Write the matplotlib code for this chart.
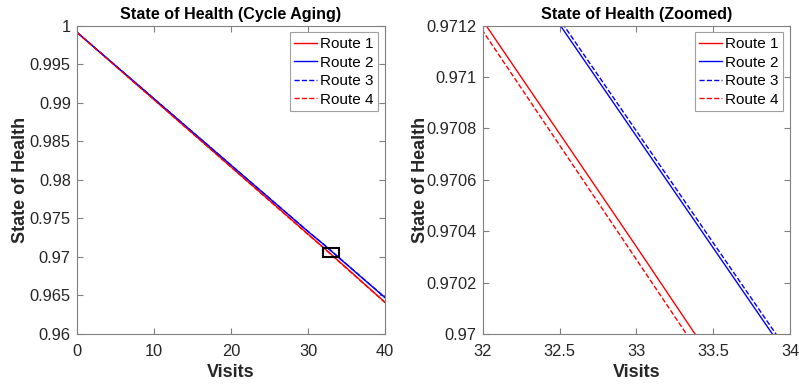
import matplotlib.pyplot as plt
from matplotlib.patches import Rectangle
from matplotlib.ticker import FixedLocator, FixedFormatter

plt.rcParams['font.family'] = ['Liberation Sans', 'DejaVu Sans']

# SOH per route at selected visit counts
visits = [0, 10, 20, 30, 32, 33, 34, 40]
route1 = [0.99912, 0.99040, 0.98168, 0.97296, 0.97122, 0.97034, 0.96945, 0.96411]
route2 = [0.99912, 0.99051, 0.98190, 0.97329, 0.97164, 0.97077, 0.96990, 0.96471]
route3 = [0.99912, 0.99052, 0.98191, 0.97331, 0.97166, 0.97079, 0.96992, 0.96473]
route4 = [0.99912, 0.99038, 0.98164, 0.97291, 0.97118, 0.97029, 0.96940, 0.96407]

routes = [route1, route2, route3, route4]
labels = ['Route 1', 'Route 2', 'Route 3', 'Route 4']
colors = ['#ff0000', '#0000ff', '#0000ff', '#ff0000']
styles = ['-', '-', '--', '--']

# zoom window
zx = [32, 34]
zy = [0.97, 0.9712]

left_yticks = [0.96, 0.965, 0.97, 0.975, 0.98, 0.985, 0.99, 0.995, 1]
left_ylabels = ['0.96', '0.965', '0.97', '0.975', '0.98', '0.985', '0.99', '0.995', '1']
left_xticks = [0, 10, 20, 30, 40]
right_yticks = [0.97, 0.9702, 0.9704, 0.9706, 0.9708, 0.971, 0.9712]
right_ylabels = ['0.97', '0.9702', '0.9704', '0.9706', '0.9708', '0.971', '0.9712']
right_xticks = [32, 32.5, 33, 33.5, 34]
right_xlabels = ['32', '32.5', '33', '33.5', '34']

fig = plt.figure(figsize=(7.99, 3.85), dpi=100)
ax1 = fig.add_axes([0.0964, 0.1325, 0.3855, 0.801])
ax2 = fig.add_axes([0.6041, 0.1325, 0.3847, 0.801])

axcol = '#808080'
txtcol = '#262626'


def style_axes(ax):
    for s in ax.spines.values():
        s.set_color(axcol)
        s.set_linewidth(0.8)
    ax.tick_params(direction='in', top=True, right=True, length=4,
                   color=axcol, labelcolor=txtcol, labelsize=11.8, width=0.8)
    ax.tick_params(axis='x', pad=7)
    ax.tick_params(axis='y', pad=4.5)
    ax.set_xlabel('Visits', fontsize=13, fontweight='bold', color=txtcol, labelpad=4)
    ax.set_ylabel('State of Health', fontsize=13, fontweight='bold', color=txtcol)


for ax in (ax1, ax2):
    for r, lab, c, ls in zip(routes, labels, colors, styles):
        ax.plot(visits, r, color=c, linestyle=ls, linewidth=1, label=lab)
    style_axes(ax)
    leg = ax.legend(loc='upper right', fontsize=11, handlelength=1.5,
                    handletextpad=0.2, borderpad=0.3, labelspacing=0.3,
                    fancybox=False, framealpha=1, borderaxespad=0.45)
    leg.get_frame().set_edgecolor('#a0a0a0')
    leg.get_frame().set_linewidth(0.8)

# y labels sit just left of the tick labels
ax1.yaxis.set_label_coords(-0.157, 0.5)
ax2.yaxis.set_label_coords(-0.175, 0.5)

ax1.set_xlim(0, 40)
ax1.set_ylim(0.96, 1)
ax1.xaxis.set_major_locator(FixedLocator(left_xticks))
ax1.yaxis.set_major_locator(FixedLocator(left_yticks))
ax1.yaxis.set_major_formatter(FixedFormatter(left_ylabels))
ax1.set_title('State of Health (Cycle Aging)', fontsize=11.6, fontweight='bold', pad=5)
ax1.add_patch(Rectangle((zx[0], zy[0]), zx[1] - zx[0], zy[1] - zy[0],
                        fill=False, edgecolor='black', linewidth=1.5, zorder=5))

ax2.set_xlim(zx)
ax2.set_ylim(zy)
ax2.xaxis.set_major_locator(FixedLocator(right_xticks))
ax2.xaxis.set_major_formatter(FixedFormatter(right_xlabels))
ax2.yaxis.set_major_locator(FixedLocator(right_yticks))
ax2.yaxis.set_major_formatter(FixedFormatter(right_ylabels))
ax2.set_title('State of Health (Zoomed)', fontsize=11.6, fontweight='bold', pad=5)

fig.savefig('out.png', dpi=100)
